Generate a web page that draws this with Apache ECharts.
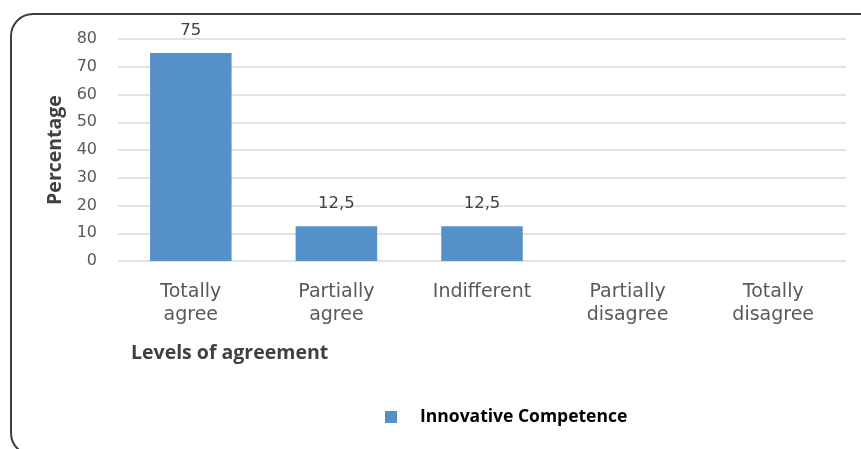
<!DOCTYPE html>
<html><head><meta charset="utf-8">
<script src="https://cdn.jsdelivr.net/npm/echarts@6/dist/echarts.min.js"></script>
<style>html,body{margin:0;padding:0;background:#fff}#c{width:861px;height:449px}</style>
</head><body><div id="c"></div>
<script>
const categories = ['Totally\nagree', 'Partially\nagree', 'Indifferent', 'Partially\ndisagree', 'Totally\ndisagree'];
const values = [75, 12.5, 12.5, null, null];
const labelTexts = ['75', '12,5', '12,5', '', ''];
const seriesName = 'Innovative Competence';
const yTicks = [0, 10, 20, 30, 40, 50, 60, 70, 80];

const chart = echarts.init(document.getElementById('c'), null, {renderer: 'canvas'});
chart.setOption({
  animation: false,
  graphic: [{
    type: 'rect', silent: true, z: -10,
    shape: {x: 11, y: 14, width: 880, height: 441, r: 22},
    style: {fill: '#fff', stroke: '#404040', lineWidth: 2}
  }],
  title: {
    text: 'Levels of agreement', left: 131, top: 343, padding: 0,
    textStyle: {fontFamily: 'Open Sans', fontWeight: 'bold', fontSize: 19.5, color: '#404040'}
  },
  legend: {
    data: [seriesName], left: 380, top: 403, icon: 'rect', itemWidth: 12, itemHeight: 12, itemGap: 10,
    textStyle: {fontFamily: 'Open Sans', fontWeight: 'bold', fontSize: 17.5, color: '#000', padding: [0, 0, 0, 18]}
  },
  grid: {left: 118, right: 15, top: 39, bottom: 188, containLabel: false},
  xAxis: {
    type: 'category', data: categories,
    axisLine: {show: false}, axisTick: {show: false},
    axisLabel: {fontFamily: 'DejaVu Sans', fontSize: 19, color: '#595959', lineHeight: 23, margin: 20, interval: 0}
  },
  yAxis: {
    type: 'value', min: 0, max: 80, interval: 10,
    name: 'Percentage', nameLocation: 'middle', nameGap: 53,
    nameTextStyle: {fontFamily: 'Open Sans', fontWeight: 'bold', fontSize: 19.5, color: '#404040'},
    axisLabel: {fontFamily: 'DejaVu Sans', fontSize: 16, color: '#595959', margin: 21,
      formatter: v => yTicks.includes(v) ? String(v) : ''},
    splitLine: {lineStyle: {color: '#d9d9d9', width: 1.5}},
    axisLine: {show: false}, axisTick: {show: false}
  },
  series: [{
    name: seriesName, type: 'bar', data: values, barWidth: '56%',
    itemStyle: {color: '#5591c8'},
    label: {show: true, position: 'top', distance: 14, fontFamily: 'DejaVu Sans', fontSize: 16.5, color: '#404040',
      formatter: p => labelTexts[p.dataIndex]}
  }]
});
</script></body></html>
